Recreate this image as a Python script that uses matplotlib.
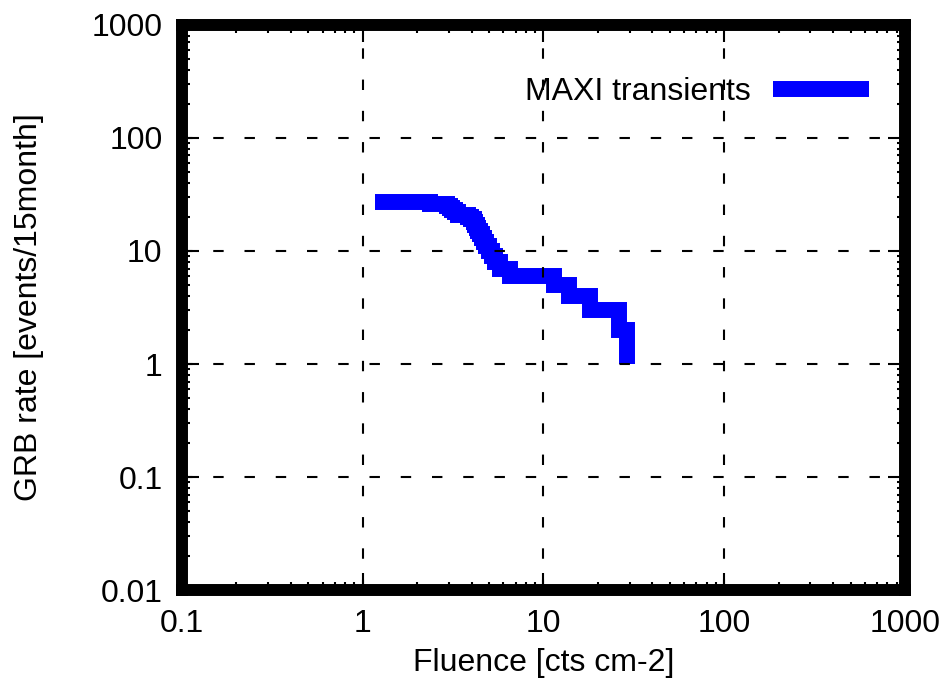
import matplotlib
matplotlib.use("Agg")
import matplotlib.pyplot as plt
from matplotlib.ticker import FixedLocator, FixedFormatter, LogLocator, NullFormatter

# cumulative rate steps
fluence = [1.165, 2.35, 2.93, 3.03, 3.13, 3.23, 3.35, 3.81, 3.96, 4.11, 4.19,
           4.27, 4.36, 4.44, 4.55, 4.67, 4.82, 4.98, 5.21, 5.41, 5.73, 6.55,
           11.5, 13.9, 18.1, 26.3, 29.1]
rate = [27, 26, 25, 24, 23, 22, 21, 20, 19, 18, 17, 16, 15, 14, 13, 12, 11,
        10, 9, 8, 7, 6, 5, 4, 3, 2, 1]

x_ticks = [0.1, 1, 10, 100, 1000]
x_labels = ["0.1", "1", "10", "100", "1000"]
y_ticks = [0.01, 0.1, 1, 10, 100, 1000]
y_labels = ["0.01", "0.1", "1", "10", "100", "1000"]

plt.rcParams['font.family'] = ['Liberation Sans', 'DejaVu Sans']
plt.rcParams['font.size'] = 23

fig = plt.figure(figsize=(9.52, 6.88), dpi=100)
ax = fig.add_axes([0.1912, 0.1424, 0.7594, 0.8213])

ax.plot(fluence, rate, drawstyle='steps-post', color='#0000ff', lw=11.5,
        solid_joinstyle='miter', solid_capstyle='butt', label='MAXI transients')

ax.set_xscale('log')
ax.set_yscale('log')
ax.set_xlim(0.1, 1000)
ax.set_ylim(0.01, 1000)

ax.xaxis.set_major_locator(FixedLocator(x_ticks))
ax.xaxis.set_major_formatter(FixedFormatter(x_labels))
ax.yaxis.set_major_locator(FixedLocator(y_ticks))
ax.yaxis.set_major_formatter(FixedFormatter(y_labels))
ax.xaxis.set_minor_locator(LogLocator(base=10, subs=range(2, 10)))
ax.yaxis.set_minor_locator(LogLocator(base=10, subs=range(2, 10)))
ax.xaxis.set_minor_formatter(NullFormatter())
ax.yaxis.set_minor_formatter(NullFormatter())

ax.tick_params(which='both', direction='in', top=True, right=True, width=1.5)
ax.tick_params(which='major', length=12, pad=14)
ax.tick_params(which='minor', length=6)

# grid drawn over the curve
ax.set_axisbelow(False)
ax.grid(True, which='major', color='black', lw=1.5, linestyle=(0, (5, 10)))

for s in ax.spines.values():
    s.set_linewidth(8.6)

ax.set_xlabel('Fluence [cts cm-2]', labelpad=6)
ax.set_ylabel('GRB rate [events/15month]', labelpad=34)

ax.legend(loc='upper right', frameon=False, markerfirst=False,
          handlelength=3.0, handletextpad=0.7, bbox_to_anchor=(0.99, 0.958))

fig.savefig('out.png', dpi=100)
